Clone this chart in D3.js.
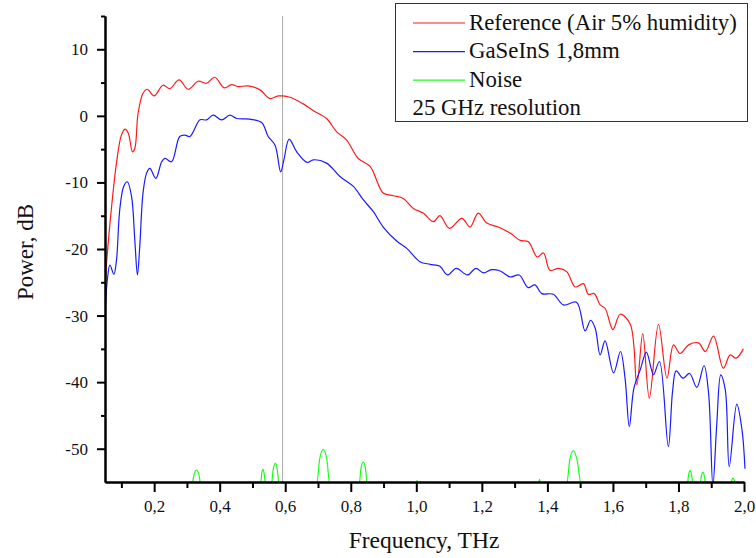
<!DOCTYPE html>
<html>
<head>
<meta charset="utf-8">
<script src="https://cdn.jsdelivr.net/npm/d3@7"></script>
<style>
  body { margin: 0; background: #fff; }
  svg { display: block; }
  text { font-family: "Liberation Serif", "Times New Roman", serif; fill: #111; }
</style>
</head>
<body>
<div id="chart"></div>
<script>
// values: [frequency THz, power dB]
var reference = [[0.050,-25.4],[0.057,-20.7],[0.070,-13.7],[0.085,-7.1],[0.100,-2.9],[0.111,-2.0],[0.121,-2.6],[0.134,-5.4],[0.141,-4.9],[0.151,0.4],
  [0.166,3.4],[0.179,4.0],[0.200,3.0],[0.227,4.6],[0.248,4.1],[0.276,5.4],[0.304,4.0],[0.334,5.2],[0.360,4.9],[0.385,5.8],
  [0.414,4.2],[0.436,4.7],[0.456,4.4],[0.487,4.5],[0.523,3.9],[0.553,2.6],[0.579,3.0],[0.614,2.8],[0.655,1.8],[0.685,0.8],
  [0.726,-0.4],[0.757,-2.4],[0.787,-3.6],[0.823,-6.4],[0.859,-7.6],[0.899,-11.6],[0.930,-12.0],[0.960,-12.4],[0.991,-13.9],[1.021,-14.6],
  [1.052,-15.9],[1.072,-15.0],[1.101,-16.9],[1.139,-15.4],[1.164,-16.7],[1.189,-14.6],[1.215,-16.1],[1.250,-16.7],[1.286,-17.6],[1.317,-18.7],
  [1.342,-18.9],[1.369,-21.2],[1.388,-20.6],[1.408,-23.2],[1.434,-22.9],[1.459,-23.4],[1.485,-25.7],[1.510,-25.2],[1.525,-26.8],[1.543,-26.7],
  [1.561,-28.4],[1.576,-28.9],[1.600,-32.1],[1.622,-29.8],[1.653,-31.3],[1.673,-40.4],[1.691,-32.7],[1.711,-42.4],[1.739,-31.3],[1.765,-39.4],
  [1.785,-34.4],[1.805,-35.7],[1.831,-34.4],[1.861,-34.1],[1.882,-35.4],[1.907,-33.1],[1.937,-37.9],[1.958,-35.9],[1.976,-36.4],[1.998,-35.0]]

var sample = [[0.050,-30.2],[0.057,-24.7],[0.065,-22.4],[0.077,-23.8],[0.085,-21.7],[0.095,-14.1],[0.107,-10.6],[0.118,-9.9],[0.131,-12.1],[0.141,-18.7],
  [0.149,-23.9],[0.156,-19.7],[0.166,-11.6],[0.177,-8.6],[0.187,-7.9],[0.205,-9.4],[0.223,-6.9],[0.233,-6.4],[0.253,-6.9],[0.278,-3.1],
  [0.294,-2.9],[0.309,-3.1],[0.340,-0.6],[0.360,-0.6],[0.380,0.1],[0.406,-0.6],[0.431,0.1],[0.452,-0.4],[0.492,-0.5],[0.528,-1.0],
  [0.548,-3.1],[0.569,-4.4],[0.586,-8.4],[0.596,-6.6],[0.612,-3.5],[0.635,-5.4],[0.667,-7.0],[0.686,-6.6],[0.726,-7.1],[0.767,-9.1],
  [0.808,-10.6],[0.838,-12.6],[0.869,-14.4],[0.899,-16.7],[0.940,-18.8],[0.971,-19.9],[1.011,-21.9],[1.042,-22.3],[1.072,-22.6],[1.095,-23.9],
  [1.122,-22.9],[1.156,-23.9],[1.182,-22.9],[1.205,-23.6],[1.230,-23.1],[1.256,-23.3],[1.286,-24.2],[1.314,-23.9],[1.341,-25.8],[1.362,-25.4],
  [1.383,-26.7],[1.418,-26.8],[1.449,-28.4],[1.489,-28.0],[1.515,-32.3],[1.532,-30.7],[1.546,-31.9],[1.561,-35.9],[1.576,-33.8],[1.602,-38.6],
  [1.623,-35.4],[1.637,-39.4],[1.650,-46.7],[1.664,-40.9],[1.683,-38.2],[1.702,-35.5],[1.717,-38.0],[1.724,-38.9],[1.742,-36.9],[1.769,-49.7],
  [1.782,-41.4],[1.793,-38.3],[1.814,-39.4],[1.834,-38.7],[1.856,-40.8],[1.878,-37.5],[1.892,-41.7],[1.905,-55.5],[1.917,-46.2],[1.929,-38.9],
  [1.943,-41.2],[1.955,-52.7],[1.978,-43.3],[1.994,-47.2],[2.003,-53.0]]

// noise only pokes above the -55 dB floor in a few places
var noise = [[0.05,-55.3],
  [0.316,-55.3],[0.321,-54.0],[0.329,-53.2],[0.337,-54.0],[0.342,-55.3],
  [0.525,-55.3],[0.528,-53.8],[0.532,-53.1],[0.536,-53.8],[0.540,-55.3],
  [0.558,-55.3],[0.563,-53.2],[0.570,-52.2],[0.576,-53.2],[0.581,-55.3],
  [0.696,-55.3],[0.705,-51.6],[0.716,-50.1],[0.727,-51.6],[0.736,-55.3],
  [0.826,-55.3],[0.831,-53.0],[0.838,-52.0],[0.845,-53.0],[0.850,-55.3],
  [0.998,-55.3],[1.002,-54.8],[1.006,-55.3],
  [1.372,-55.3],[1.376,-54.6],[1.380,-55.3],
  [1.459,-55.3],[1.468,-51.8],[1.479,-50.3],[1.491,-51.8],[1.503,-55.3],
  [1.827,-55.3],[1.831,-53.9],[1.836,-53.3],[1.840,-53.9],[1.844,-55.3],
  [1.866,-55.3],[1.870,-54.1],[1.874,-53.5],[1.879,-54.1],[1.883,-55.3],
  [1.960,-55.3],[1.963,-54.7],[1.966,-54.4],[1.970,-54.7],[1.973,-55.3],
  [2.0,-55.3]]

var markerFreq = 0.592
var xMajor = [0.2, 0.4, 0.6, 0.8, 1.0, 1.2, 1.4, 1.6, 1.8, 2.0]
var xMinor = [0.1, 0.3, 0.5, 0.7, 0.9, 1.1, 1.3, 1.5, 1.7, 1.9]
var yMajor = [-50, -40, -30, -20, -10, 0, 10]
var yMinor = [-45, -35, -25, -15, -5, 5, 15]
var legendItems = [
  {label: "Reference (Air 5% humidity)", color: "#ff1a1a"},
  {label: "GaSeInS 1,8mm", color: "#1a1aff"},
  {label: "Noise", color: "#1aff1a"}]
var legendNote = "25 GHz resolution"

var width = 756, height = 558

var svg = d3.select("#chart")
  .append("svg")
    .attr("width", width)
    .attr("height", height)

var x = d3.scaleLinear().domain([0.05, 2.0]).range([105, 744])
var y = d3.scaleLinear().domain([-55, 15]).range([482, 16])

svg.append("clipPath").attr("id", "plotclip")
  .append("rect")
    .attr("x", x(0.05)).attr("y", y(15))
    .attr("width", x(2.0) - x(0.05) + 3)
    .attr("height", y(-55) - y(15))

// marker line
svg.append("line")
  .attr("x1", x(markerFreq)).attr("x2", x(markerFreq))
  .attr("y1", y(15)).attr("y2", y(-55))
  .attr("stroke", "#a8a8a8")
  .attr("stroke-width", 1)

var line = d3.line()
  .x(function(d) { return x(d[0]) })
  .y(function(d) { return y(d[1]) })
  .curve(d3.curveCatmullRom.alpha(0.5))

var noiseLine = d3.line()
  .x(function(d) { return x(d[0]) })
  .y(function(d) { return y(d[1]) })
  .curve(d3.curveMonotoneX)

var curves = svg.append("g").attr("clip-path", "url(#plotclip)")

curves.append("path").datum(noise)
  .attr("d", noiseLine)
  .attr("fill", "none").attr("stroke", legendItems[2].color).attr("stroke-width", 1.2)

curves.append("path").datum(reference)
  .attr("d", line)
  .attr("fill", "none").attr("stroke", legendItems[0].color).attr("stroke-width", 1.2)

curves.append("path").datum(sample)
  .attr("d", line)
  .attr("fill", "none").attr("stroke", legendItems[1].color).attr("stroke-width", 1.2)

// axes: minor ticks first, then major with labels
function styleAxis(g) {
  g.selectAll("path").attr("stroke", "#000").attr("stroke-width", 2)
  g.selectAll("line").attr("stroke", "#000").attr("stroke-width", 2)
  g.selectAll("text").style("font-size", "17px").attr("fill", "#111")
    .style("font-family", '"Liberation Serif", serif')
}

svg.append("g")
  .attr("transform", "translate(0," + y(-55) + ")")
  .call(d3.axisBottom(x).tickValues(xMinor).tickSize(6).tickSizeOuter(0).tickFormat(""))
  .call(styleAxis)

svg.append("g")
  .attr("transform", "translate(0," + y(-55) + ")")
  .call(d3.axisBottom(x).tickValues(xMajor).tickSize(10).tickSizeOuter(0).tickPadding(8)
    .tickFormat(function(d) { return d.toFixed(1).replace(".", ",") }))
  .call(styleAxis)

svg.append("g")
  .attr("transform", "translate(" + x(0.05) + ",0)")
  .call(d3.axisLeft(y).tickValues(yMinor).tickSize(4).tickSizeOuter(0).tickFormat(""))
  .call(styleAxis)

svg.append("g")
  .attr("transform", "translate(" + x(0.05) + ",0)")
  .call(d3.axisLeft(y).tickValues(yMajor).tickSize(8).tickSizeOuter(0).tickPadding(9)
    .tickFormat(function(d) { return String(d) }))
  .call(styleAxis)

// axis titles
svg.append("text")
  .attr("x", 424).attr("y", 548)
  .attr("text-anchor", "middle")
  .style("font-size", "23.5px")
  .text("Frequency, THz")

svg.append("text")
  .attr("transform", "translate(33,252) rotate(-90)")
  .attr("text-anchor", "middle")
  .style("font-size", "23px")
  .text("Power, dB")

// legend
var legend = svg.append("g")
legend.append("rect")
  .attr("x", 395.5).attr("y", 3.5)
  .attr("width", 352).attr("height", 118)
  .attr("fill", "#fff").attr("stroke", "#333").attr("stroke-width", 1)

legend.selectAll("legendRows")
  .data(legendItems)
  .enter()
  .append("line")
    .attr("x1", 413).attr("x2", 465)
    .attr("y1", function(d, i) { return 23 + i * 28.6 })
    .attr("y2", function(d, i) { return 23 + i * 28.6 })
    .attr("stroke", function(d) { return d.color })
    .attr("stroke-width", 1.2)

legend.selectAll("legendLabels")
  .data(legendItems)
  .enter()
  .append("text")
    .attr("x", 469)
    .attr("y", function(d, i) { return 29.5 + i * 28.6 })
    .style("font-size", "22.8px")
    .text(function(d) { return d.label })

legend.append("text")
  .attr("x", 412.5).attr("y", 115.3)
  .style("font-size", "22.8px")
  .text(legendNote)
</script>
</body>
</html>
